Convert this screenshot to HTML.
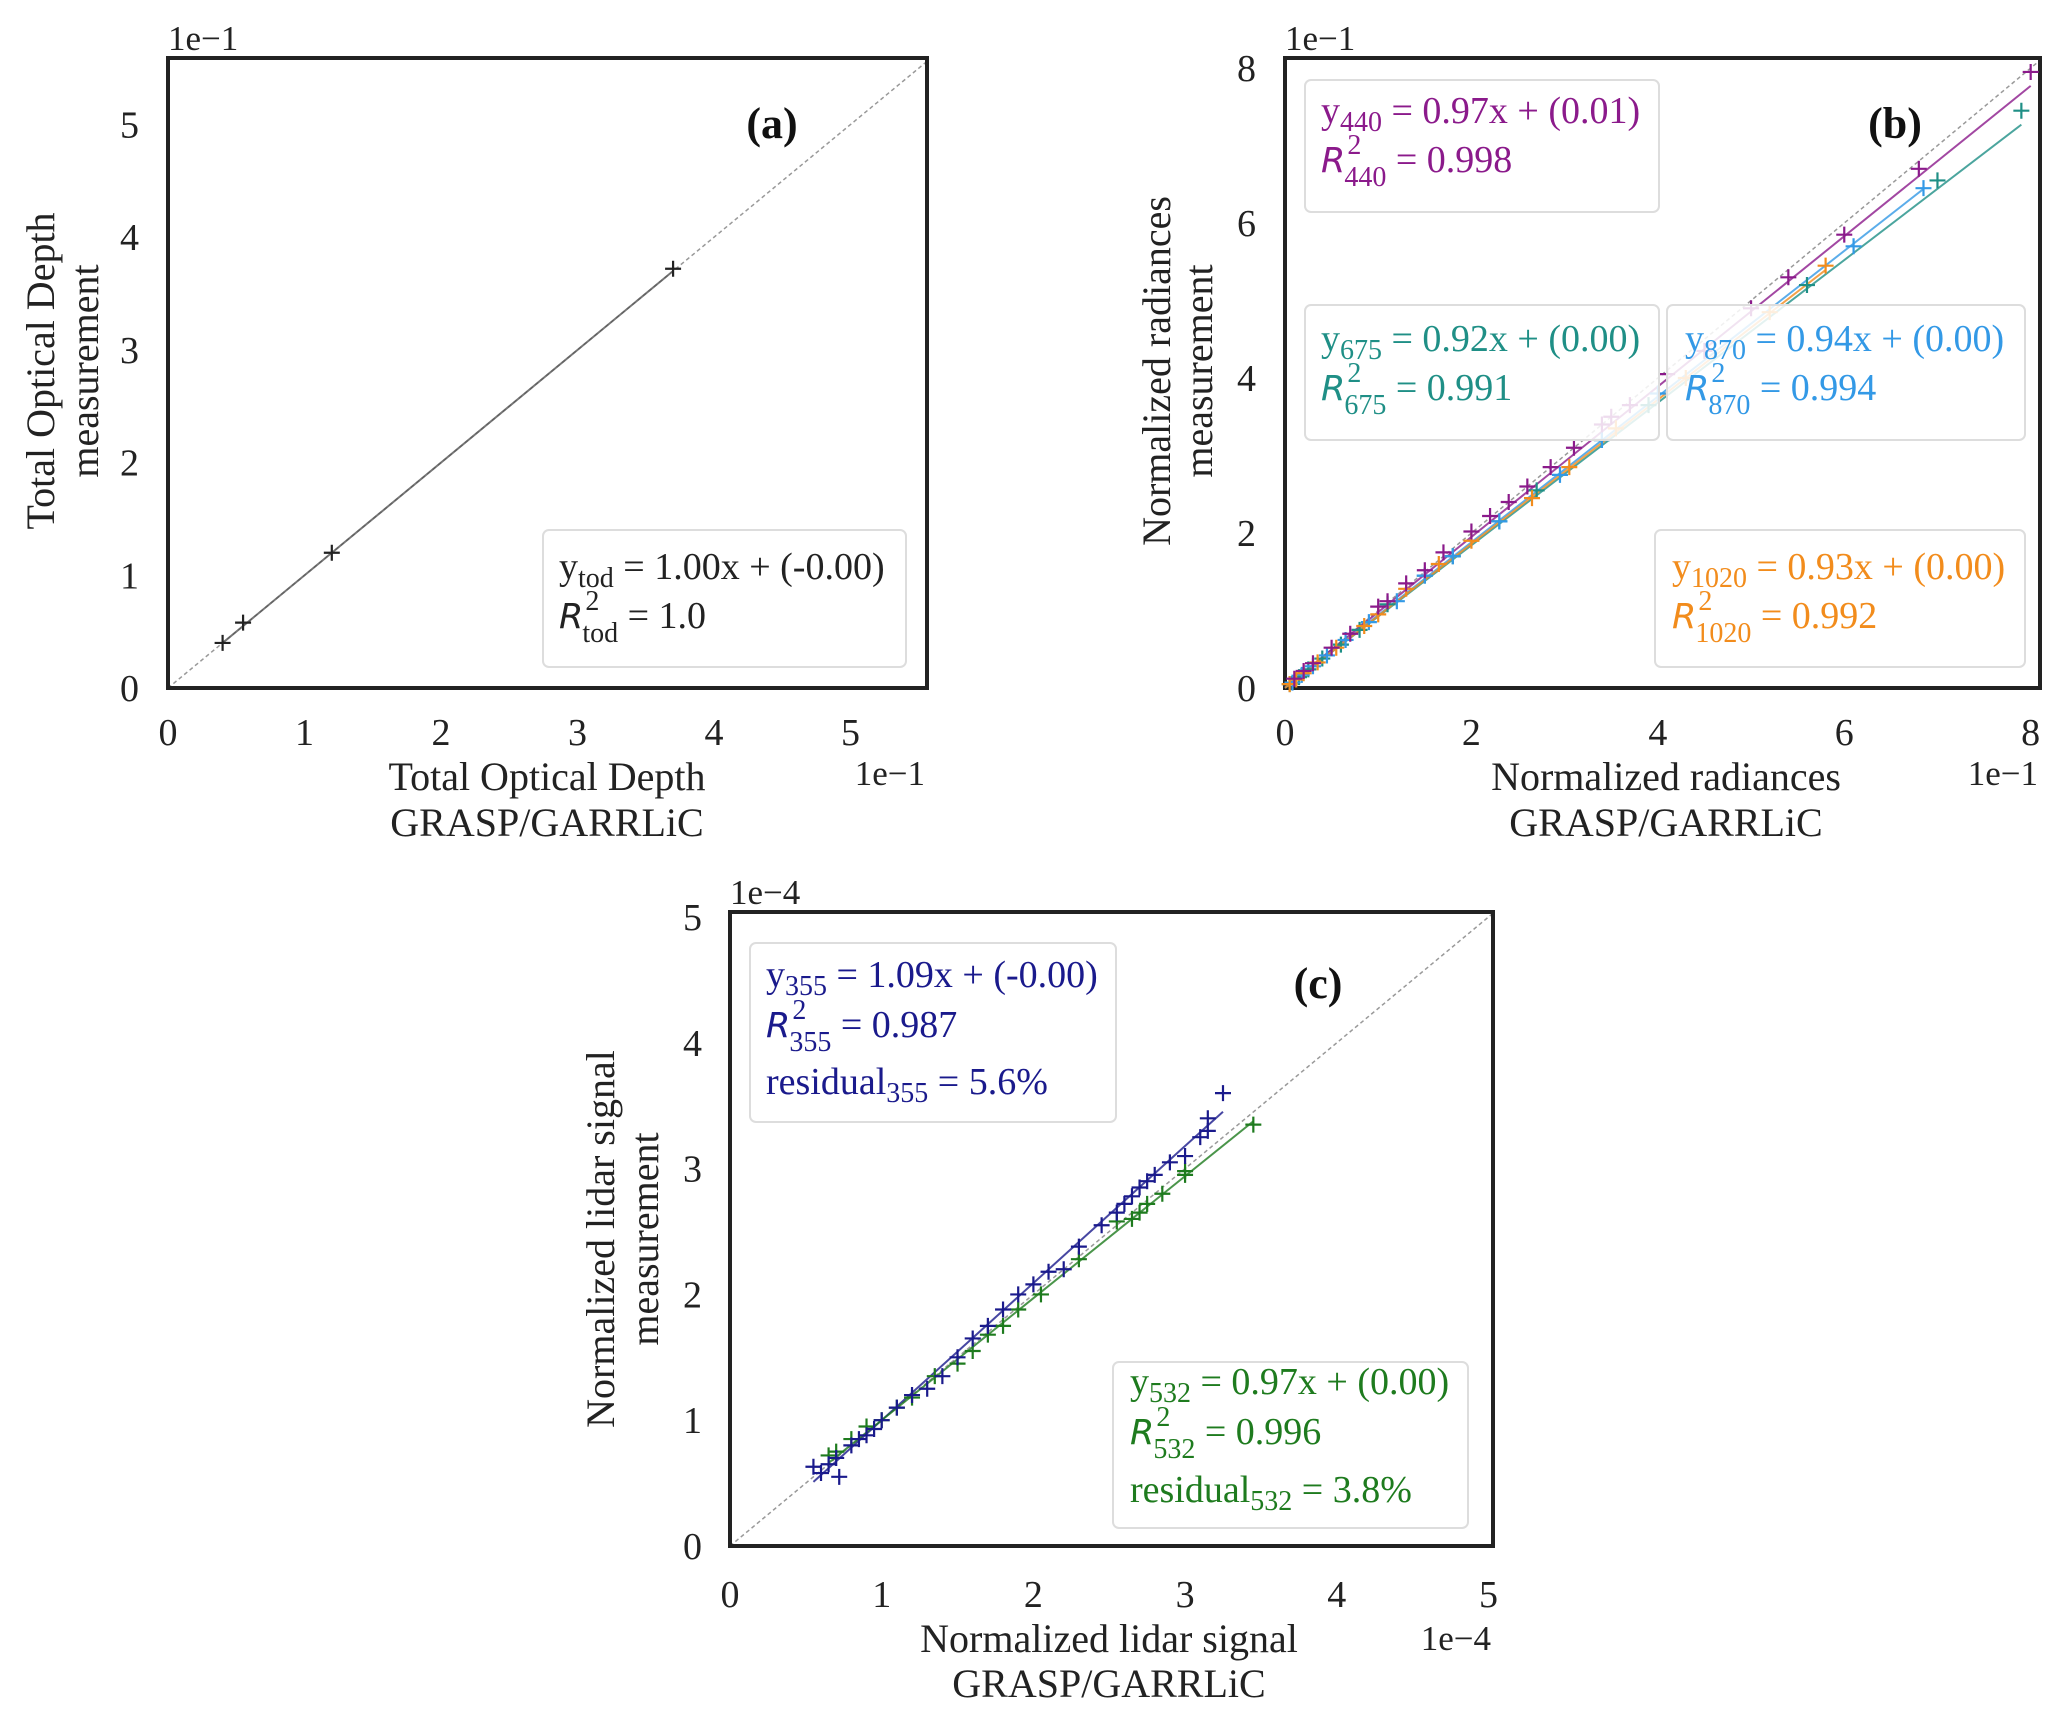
<!DOCTYPE html>
<html><head><meta charset="utf-8"><style>
body{margin:0;background:#fff}
svg{display:block;font-family:"Liberation Serif",serif}
</style></head><body>
<svg id="fig" width="2067" height="1718" viewBox="0 0 2067 1718" xmlns="http://www.w3.org/2000/svg">
<rect width="2067" height="1718" fill="#fff"/>
<g id="root"></g>
</svg>
<script>
// ---- data panel (a)
const todX = [0.40, 0.55, 1.20, 3.70];
const todY = [0.40, 0.58, 1.20, 3.72];
const todFit = [1.00, 0.00];
const aTicks = ["0","1","2","3","4","5"];
// ---- data panel (b)
const r440X = [0.10,0.20,0.30,0.50,0.70,1.00,1.10,1.30,1.50,1.70,2.00,2.20,2.40,2.60,2.85,3.10,3.40,3.50,3.70,4.10,4.50,5.00,5.40,6.00,6.80,8.00];
const r440Y = [0.12,0.22,0.32,0.52,0.70,1.05,1.12,1.35,1.52,1.75,2.02,2.22,2.40,2.60,2.85,3.10,3.40,3.50,3.65,4.05,4.35,4.90,5.30,5.85,6.70,7.95];
const r675X = [0.05,0.15,0.25,0.40,0.60,0.80,1.10,1.50,1.80,2.30,2.70,3.40,3.90,5.60,7.00,7.90];
const r675Y = [0.05,0.14,0.24,0.38,0.56,0.75,1.08,1.45,1.70,2.15,2.55,3.20,3.65,5.20,6.55,7.45];
const r870X = [0.08,0.18,0.30,0.45,0.65,0.90,1.20,1.50,1.80,2.30,2.95,3.40,4.00,6.10,6.85];
const r870Y = [0.07,0.17,0.28,0.42,0.62,0.85,1.12,1.45,1.70,2.15,2.75,3.20,3.80,5.70,6.45];
const r1020X = [0.05,0.12,0.20,0.35,0.55,0.85,1.00,1.30,1.65,2.00,2.65,3.05,3.55,4.30,5.20,5.80];
const r1020Y = [0.05,0.11,0.19,0.33,0.52,0.80,0.95,1.28,1.60,1.90,2.45,2.85,3.35,4.00,4.85,5.45];
const bFits = [[0.97,0.10],[0.92,0.02],[0.94,0.01],[0.93,0.01]];
const bFitMax = [8.0, 7.9, 6.85, 5.8];
const bTicks = ["0","2","4","6","8"];
// ---- data panel (c)
const l355X = [0.55,0.60,0.65,0.70,0.72,0.80,0.85,0.90,0.95,1.00,1.10,1.20,1.30,1.40,1.50,1.60,1.70,1.80,1.90,2.00,2.10,2.20,2.30,2.45,2.55,2.60,2.65,2.70,2.75,2.80,2.90,3.00,3.10,3.15,3.15,3.25];
const l355Y = [0.63,0.58,0.65,0.70,0.55,0.80,0.85,0.88,0.93,1.00,1.10,1.20,1.25,1.35,1.50,1.65,1.75,1.88,2.00,2.08,2.18,2.20,2.38,2.55,2.65,2.72,2.78,2.85,2.90,2.95,3.05,3.10,3.25,3.30,3.40,3.60];
const l532X = [0.65,0.70,0.80,0.90,1.00,1.10,1.20,1.35,1.50,1.60,1.70,1.80,1.90,2.05,2.30,2.55,2.65,2.70,2.75,2.85,3.00,3.00,3.45];
const l532Y = [0.72,0.75,0.85,0.95,1.00,1.10,1.18,1.35,1.45,1.55,1.68,1.75,1.88,2.00,2.28,2.58,2.60,2.65,2.72,2.80,2.95,2.98,3.35];
const cFits = [[1.09,-0.09],[0.97,0.03]];
const cFitRange = [[0.55,3.25],[0.65,3.45]];
const cTicks = ["0","1","2","3","4","5"];

const NS="http://www.w3.org/2000/svg";
const root=document.getElementById('root');
function mk(tag,attrs,parent){const e=document.createElementNS(NS,tag);for(const k in attrs)e.setAttribute(k,attrs[k]);(parent||root).appendChild(e);return e;}

function panel(p){
  const g=mk('g',{});
  
  
  const sx=v=>p.l+(v/p.xmax)*(p.r-p.l);
  const sy=v=>p.b-(v/p.ymax)*(p.b-p.t);
  p.sx=sx;p.sy=sy;
  const d=mk('line',{x1:sx(0),y1:sy(0),x2:sx(Math.min(p.xmax,p.ymax)),y2:sy(Math.min(p.xmax,p.ymax)),stroke:'#999','stroke-width':1.5,'stroke-dasharray':'4 3'},g);
  
  
  p.ticks.forEach((t,i)=>{
    const v=+t;
    const tx=mk('text',{x:sx(v),y:p.xtickY,'text-anchor':'middle','font-size':38,fill:'#222'},g);
    tx.textContent=t;
    
    
    const ty=mk('text',{x:p.ytickX,y:sy(v)+13,'text-anchor':'end','font-size':38,fill:'#222'},g);
    ty.textContent=t;
    
    
  });
  const fr=mk('rect',{x:p.l,y:p.t,width:p.r-p.l,height:p.b-p.t,fill:'none',stroke:'#222','stroke-width':4},g);
  
  
  const o1=mk('text',{x:p.l,y:p.t-8,'font-size':35,fill:'#222'},g);o1.textContent=p.off;
  
  
  const o2=mk('text',{x:p.r-2,y:p.xoffY,'text-anchor':'end','font-size':35,fill:'#222'},g);o2.textContent=p.off;
  
  
  p.xlab.forEach((s,i)=>{const e=mk('text',{x:p.xlabCx,y:p.xlabY[i],'text-anchor':'middle','font-size':40,fill:'#222'},g);e.textContent=s;
    
    });
  p.ylab.forEach((s,i)=>{const e=mk('text',{x:0,y:0,'text-anchor':'middle','font-size':40,fill:'#222',transform:`translate(${p.ylabX[i]},${p.ylabCy}) rotate(-90)`},g);e.textContent=s;
    
    });
  const pl=mk('text',{x:p.tagX,y:p.tagY,'text-anchor':'middle','font-size':44,'font-weight':'bold',fill:'#111'},g);pl.textContent=p.tag;
  
  
  p.g=g;
  return p;
}
function fitLine(p,slope,icpt,x0,x1,color,name){
  const l=mk('line',{x1:p.sx(x0),y1:p.sy(slope*x0+icpt),x2:p.sx(x1),y2:p.sy(slope*x1+icpt),stroke:color,'stroke-width':2,opacity:0.8},p.g);
  
  
}
function points(p,xs,ys,color,name){
  xs.forEach((x,i)=>{
    const X=p.sx(x),Y=p.sy(ys[i]),s=8;
    const m=mk('path',{d:`M${X-s},${Y}H${X+s}M${X},${Y-s}V${Y+s}`,stroke:color,'stroke-width':2.2,fill:'none'},p.g);
    
    
  });
}
function legend(p,box,lines,color,name){
  const g=mk('g',{},p.g);
  
  
  mk('rect',{x:box[0],y:box[1],width:box[2]-box[0],height:box[3]-box[1],rx:6,fill:'#fff','fill-opacity':0.85,stroke:'#ddd','stroke-width':2},g);
  lines.forEach(L=>{
    const t=mk('text',{x:box[4],y:L.y,'font-size':38,fill:color},g);
    if(L.kind==='R'){
      t.innerHTML=`<tspan font-family="DejaVu Sans, sans-serif" font-style="italic" font-size="35">R</tspan><tspan font-size="28" dy="-18" dx="2">2</tspan><tspan font-size="28" dy="32" dx="-17">${L.sub}</tspan><tspan dy="-14"> ${L.rest}</tspan>`;
    } else {
      t.innerHTML=`${L.pre}<tspan font-size="28" dy="8">${L.sub}</tspan><tspan dy="-8"> ${L.rest}</tspan>`;
    }
  });
}
// panel a
const A=panel({name:'panel-a',l:168,r:927,t:58,b:688,xmax:5.56,ymax:5.59,ticks:aTicks,xtickY:745,ytickX:139,off:'1e\u22121',xoffY:785,
  xlab:['Total Optical Depth','GRASP/GARRLiC'],xlabCx:547,xlabY:[790,836],ylab:['Total Optical Depth','measurement'],ylabX:[54,98],ylabCy:371,tag:'(a)',tagX:772,tagY:138});
fitLine(A,todFit[0],todFit[1],todX[0],todX[3],'#555','fit-line-tod');
points(A,todX,todY,'#222','tod-point');
legend(A,[543,530,906,667,559],[{kind:'y',pre:'y',sub:'tod',rest:'= 1.00x + (-0.00)',y:579},{kind:'R',sub:'tod',rest:'= 1.0',y:628}],'#222','legend-tod');

// panel b
const B=panel({name:'panel-b',l:1285,r:2040,t:58,b:688,xmax:8.1,ymax:8.13,ticks:bTicks,xtickY:745,ytickX:1256,off:'1e\u22121',xoffY:785,
  xlab:['Normalized radiances','GRASP/GARRLiC'],xlabCx:1666,xlabY:[790,836],ylab:['Normalized radiances','measurement'],ylabX:[1170,1212],ylabCy:371,tag:'(b)',tagX:1895,tagY:138});
const bCols=['#8b1a8b','#1f8f86','#3399e6','#f28c1c'];
const bNames=['440','675','870','1020'];
bFits.forEach((f,i)=>fitLine(B,f[0],f[1]/10,0,bFitMax[i],bCols[i],'fit-line-'+bNames[i]));
points(B,r675X,r675Y,bCols[1],'point-675');
points(B,r870X,r870Y,bCols[2],'point-870');
points(B,r1020X,r1020Y,bCols[3],'point-1020');
points(B,r440X,r440Y,bCols[0],'point-440');
legend(B,[1305,80,1659,212,1321],[{pre:'y',sub:'440',rest:'= 0.97x + (0.01)',y:123},{kind:'R',sub:'440',rest:'= 0.998',y:172}],bCols[0],'legend-440');
legend(B,[1305,305,1659,440,1321],[{pre:'y',sub:'675',rest:'= 0.92x + (0.00)',y:351},{kind:'R',sub:'675',rest:'= 0.991',y:400}],bCols[1],'legend-675');
legend(B,[1667,305,2025,440,1685],[{pre:'y',sub:'870',rest:'= 0.94x + (0.00)',y:351},{kind:'R',sub:'870',rest:'= 0.994',y:400}],bCols[2],'legend-870');
legend(B,[1655,530,2025,667,1672],[{pre:'y',sub:'1020',rest:'= 0.93x + (0.00)',y:579},{kind:'R',sub:'1020',rest:'= 0.992',y:628}],bCols[3],'legend-1020');

// panel c
const C=panel({name:'panel-c',l:730,r:1493,t:912,b:1546,xmax:5.03,ymax:5.04,ticks:cTicks,xtickY:1607,ytickX:702,off:'1e\u22124',xoffY:1650,
  xlab:['Normalized lidar signal','GRASP/GARRLiC'],xlabCx:1109,xlabY:[1652,1697],ylab:['Normalized lidar signal','measurement'],ylabX:[614,658],ylabCy:1239,tag:'(c)',tagX:1318,tagY:998});
const cCols=['#1a1a8c','#1e7b1e'];
fitLine(C,cFits[0][0],cFits[0][1],cFitRange[0][0],cFitRange[0][1],cCols[0],'fit-line-355');
fitLine(C,cFits[1][0],cFits[1][1],cFitRange[1][0],cFitRange[1][1],cCols[1],'fit-line-532');
points(C,l532X,l532Y,cCols[1],'point-532');
points(C,l355X,l355Y,cCols[0],'point-355');
legend(C,[750,943,1116,1122,766],[{pre:'y',sub:'355',rest:'= 1.09x + (-0.00)',y:987},{kind:'R',sub:'355',rest:'= 0.987',y:1037},{pre:'residual',sub:'355',rest:'= 5.6%',y:1094}],cCols[0],'legend-355');
legend(C,[1113,1362,1468,1528,1130],[{pre:'y',sub:'532',rest:'= 0.97x + (0.00)',y:1394},{kind:'R',sub:'532',rest:'= 0.996',y:1444},{pre:'residual',sub:'532',rest:'= 3.8%',y:1502}],cCols[1],'legend-532');
</script>
</body></html>
